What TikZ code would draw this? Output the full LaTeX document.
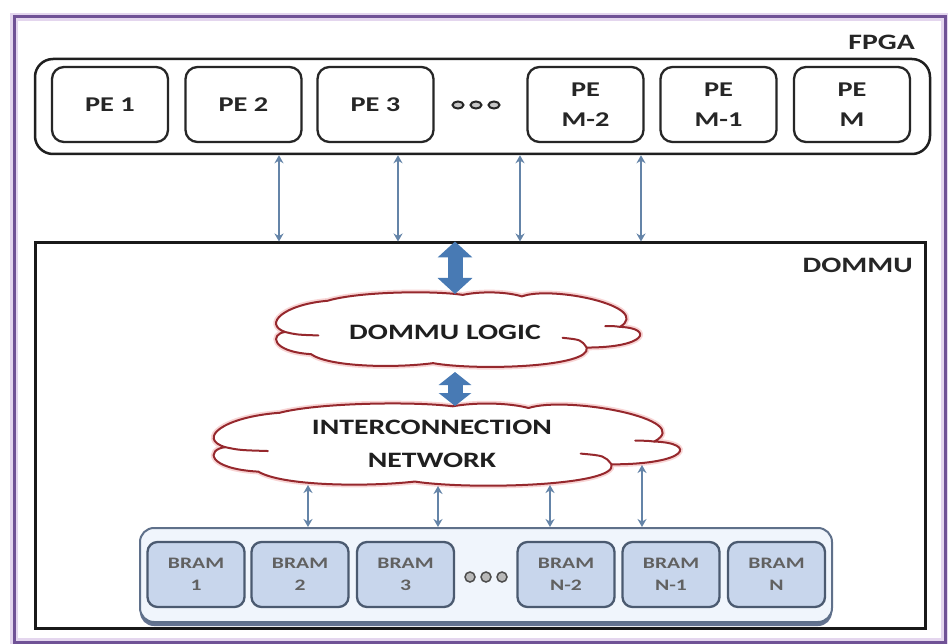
\documentclass[tikz,border=0pt]{standalone}
\usepackage{fontspec}
\newfontfamily\lbl{Carlito}[FakeStretch=1.35]
\usetikzlibrary{arrows.meta,calc}
\definecolor{framepurple}{RGB}{112,82,150}
\definecolor{framelav}{RGB}{228,214,238}
\definecolor{thinblue}{RGB}{100,132,168}
\definecolor{thickblue}{RGB}{72,122,180}
\definecolor{cloudred}{RGB}{150,40,45}
\definecolor{cloudpink}{RGB}{248,212,212}
\definecolor{bramfill}{RGB}{200,214,236}
\definecolor{bramedge}{RGB}{75,90,112}
\definecolor{contfill}{RGB}{240,245,252}
\definecolor{contedge}{RGB}{95,112,138}
\definecolor{shadowblue}{RGB}{100,115,145}
\tikzset{
  pebox/.style={draw=black!85, line width=2.3pt, rounded corners=12pt, minimum width=116pt, minimum height=75pt, align=center, inner sep=0pt, text=black!85, font=\lbl\bfseries\fontsize{21}{30}\selectfont},
  bramnode/.style={draw=bramedge, fill=bramfill, line width=2.3pt, rounded corners=10pt, minimum width=97pt, minimum height=65pt, align=center, inner sep=0pt, text=black!62, font=\lbl\bfseries\fontsize{16}{22}\selectfont},
  lbltext/.style={inner sep=0pt, text=black!85, font=\lbl\bfseries\fontsize{22}{26}\selectfont},
  cloudtext/.style={inner sep=0pt, align=center, text=black!88, font=\lbl\bfseries\fontsize{22}{33}\selectfont},
  thinarrow/.style={thinblue, line width=2pt, {Stealth[length=8pt,width=9pt]}-{Stealth[length=8pt,width=9pt]}},
  thickarrow/.style={thickblue, line width=15pt, {Triangle[length=16pt,width=34pt]}-{Triangle[length=16pt,width=34pt]}},
  cloudshape/.pic={
    \path[fill=white, draw=cloudred, line width=2pt, line join=round,
          preaction={draw=cloudpink, line width=5.5pt}]
      (-0.71,0.75) .. controls (-0.55,0.98) and (-0.15,1.02) .. (0.02,0.9)
      .. controls (0.12,1.0) and (0.26,0.98) .. (0.34,0.86)
      .. controls (0.5,1.15) and (1.05,0.6) .. (0.87,0.08)
      .. controls (1.05,0.05) and (1.02,-0.45) .. (0.69,-0.45)
      .. controls (0.72,-0.95) and (0.1,-1.05) .. (-0.14,-0.85)
      .. controls (-0.35,-0.98) and (-0.7,-0.95) .. (-0.8,-0.62)
      .. controls (-1.02,-0.55) and (-1.02,-0.1) .. (-0.94,-0.05)
      .. controls (-1.06,0.15) and (-0.95,0.65) .. (-0.71,0.75) -- cycle;
    \draw[cloudred, line width=2pt, line cap=round]
      (-0.94,-0.05) .. controls (-0.88,-0.12) .. (-0.76,-0.14);
    \draw[cloudred, line width=2pt, line cap=round]
      (0.87,0.08) .. controls (0.84,0.1) .. (0.79,0.1);
    \draw[cloudred, line width=2pt, line cap=round]
      (0.69,-0.45) .. controls (0.66,-0.25) .. (0.56,-0.2);
  }
}
\begin{document}
\begin{tikzpicture}[x=1pt,y=-1pt]
\useasboundingbox (0,0) rectangle (948,644);
\fill[white] (0,0) rectangle (948,644);
% outer frame
\draw[framelav, line width=8pt] (14,17) rectangle (945,642);
\draw[framepurple, line width=3pt] (14,17) rectangle (945,642);

% FPGA
\node[draw=black!88, line width=2.5pt, rounded corners=18pt, minimum width=895pt, minimum height=95pt] (fpga) at (482.5,106.5) {};
\node[lbltext, anchor=base east] (fpgalbl) at (915,50) {FPGA};
\node[pebox] (pe1) at (110,104.5) {PE 1};
\node[pebox] (pe2) at (243.5,104.5) {PE 2};
\node[pebox] (pe3) at (375.5,104.5) {PE 3};
\node[pebox] (pem2) at (585.5,104.5) {PE\\M-2};
\node[pebox] (pem1) at (718.5,104.5) {PE\\M-1};
\node[pebox] (pem) at (852,104.5) {PE\\M};
\foreach \x in {458,476,494}
  \draw[line width=2pt, draw=black!85, fill=gray!45] (\x,105) ellipse (5.5pt and 3.5pt);

% DOMMU
\node[draw=black!90, line width=3pt, minimum width=890pt, minimum height=385pt] (dommu) at (480,435.5) {};
\node[lbltext, anchor=base east] (dommulbl) at (913,273) {DOMMU};

\foreach \x in {279,398,520,641}
  \draw[thinarrow] (\x,0 |- fpga.south) -- (\x,0 |- dommu.north);

% clouds
\pic[xscale=185, yscale=-39] at (459,330) {cloudshape};
\node[cloudtext] (clogic) at (445,332) {DOMMU LOGIC};
\pic[xscale=237, yscale=-43] at (448,445) {cloudshape};
\node[cloudtext] (cnet) at (432,444) {INTERCONNECTION\\NETWORK};

\coordinate (c1top) at (455,294);
\coordinate (c1bot) at (455,372);
\coordinate (c2top) at (455,406);
\coordinate (c2b1) at (308,485);
\coordinate (c2b2) at (438,486);
\coordinate (c2b3) at (550,485);
\coordinate (c2b4) at (642,465);

\draw[thickarrow] (455,0 |- dommu.north) -- (c1top);
\draw[thickarrow, {Triangle[length=13pt,width=32pt]}-{Triangle[length=13pt,width=32pt]}] (c1bot) -- (c2top);

% BRAM container
\fill[shadowblue, rounded corners=14pt] (140,533) rectangle (832,626);
\node[draw=contedge, fill=contfill, line width=2pt, rounded corners=14pt, minimum width=692pt, minimum height=94pt] (bramc) at (486,575) {};
\node[bramnode] (b1) at (196,574.5) {BRAM\\1};
\node[bramnode] (b2) at (300,574.5) {BRAM\\2};
\node[bramnode] (b3) at (405.5,574.5) {BRAM\\3};
\node[bramnode] (bn2) at (566,574.5) {BRAM\\N-2};
\node[bramnode] (bn1) at (671,574.5) {BRAM\\N-1};
\node[bramnode] (bn) at (776.5,574.5) {BRAM\\N};
\foreach \x in {470,486,502}
  \draw[line width=1.5pt, draw=black!70, fill=gray!55] (\x,577) circle (5pt);

\foreach \c in {c2b1,c2b2,c2b3,c2b4}
  \draw[thinarrow] (\c) -- (\c |- bramc.north);
\end{tikzpicture}
\end{document}
